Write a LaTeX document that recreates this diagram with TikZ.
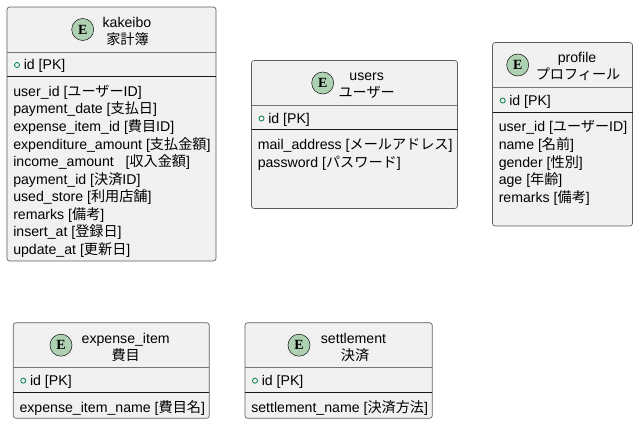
\documentclass[tikz,border=0pt]{standalone}
\usepackage{fontspec}
\setmainfont{Liberation Sans}
\newfontfamily\jpfont{Noto Sans CJK JP}
\newfontfamily\iconfont{Liberation Serif}
\newcommand{\jp}[1]{{\jpfont #1}}
\definecolor{boxfill}{HTML}{F1F1F1}
\definecolor{boxline}{HTML}{181818}
\definecolor{iconfill}{HTML}{ADD1B2}
\definecolor{pkgreen}{HTML}{038048}

\begin{document}
\begin{tikzpicture}
          [x=0.75pt,y=-0.75pt,
           ebox/.style={draw=boxline!70,fill=boxfill,rounded corners=2pt,line width=0.5pt},
           hsep/.style={draw=boxline!60,line width=0.5pt},
           psep/.style={draw=boxline,line width=0.75pt},
           eicon/.style={draw=boxline,shape=circle,fill=iconfill,inner sep=0pt,minimum size=16.5pt,font=\iconfont\bfseries\fontsize{10.5}{10.5}\selectfont},
           pk/.style={draw=pkgreen,shape=circle,inner sep=0pt,minimum size=3.8pt,line width=0.6pt},
           ttl/.style={anchor=base,inner sep=0pt,font=\fontsize{10.6}{12}\selectfont},
           attr/.style={anchor=base west,inner sep=0pt,font=\fontsize{10.6}{12}\selectfont}]

          \useasboundingbox (0,0) rectangle (638,424);

          % kakeibo
          \draw[ebox] (7,7) rectangle (216,261);
          \draw[hsep] (7,52) -- (216,52);
          \draw[psep] (7,77) -- (216,77);
          \node[eicon] (kakeiboE) at (82.7,29.5) {E};
          \node[ttl] (kakeiboT1) at (127,27.5) {kakeibo};
          \node[ttl] (kakeiboT2) at (127.5,44.5) {\jp{家計簿}};
          \node[pk] (kakeiboPK) at (17,65) {};
          \node[attr] (kakeiboId) at (23.5,70) {id [PK]};
          \node[attr] (kakeiboA1) at (13,96.5) {user\_id [\jp{ユーザー}ID]};
          \node[attr] (kakeiboA2) at (13,114) {payment\_date [\jp{支払日}]};
          \node[attr] (kakeiboA3) at (13,131.5) {expense\_item\_id [\jp{費目}ID]};
          \node[attr] (kakeiboA4) at (13,149) {expenditure\_amount [\jp{支払金額}]};
          \node[attr] (kakeiboA5) at (13,166.5) {income\_amount\ \ \ [\jp{収入金額}]};
          \node[attr] (kakeiboA6) at (13,184) {payment\_id [\jp{決済}ID]};
          \node[attr] (kakeiboA7) at (13,201.5) {used\_store [\jp{利用店舗}]};
          \node[attr] (kakeiboA8) at (13,219) {remarks [\jp{備考}]};
          \node[attr] (kakeiboA9) at (13,236.5) {insert\_at [\jp{登録日}]};
          \node[attr] (kakeiboA10) at (13,254) {update\_at [\jp{更新日}]};

          % users
          \draw[ebox] (251.5,60.5) rectangle (457.5,208.5);
          \draw[hsep] (251.5,105.5) -- (457.5,105.5);
          \draw[psep] (251.5,130) -- (457.5,130);
          \node[eicon] (usersE) at (322.7,83) {E};
          \node[ttl] (usersT1) at (366.7,81) {users};
          \node[ttl] (usersT2) at (366.7,98) {\jp{ユーザー}};
          \node[pk] (usersPK) at (261.5,118.5) {};
          \node[attr] (usersId) at (268,123.5) {id [PK]};
          \node[attr] (usersA1) at (257.5,150) {mail\_address [\jp{メールアドレス}]};
          \node[attr] (usersA2) at (257.5,167.5) {password [\jp{パスワード}]};

          % profile
          \draw[ebox] (492.5,42.5) rectangle (632.5,226);
          \draw[hsep] (492.5,87.5) -- (632.5,87.5);
          \draw[psep] (492.5,112.5) -- (632.5,112.5);
          \node[eicon] (profileE) at (517.7,65) {E};
          \node[ttl] (profileT1) at (577,63) {profile};
          \node[ttl] (profileT2) at (578,80) {\jp{プロフィール}};
          \node[pk] (profilePK) at (502.7,100.5) {};
          \node[attr] (profileId) at (509,105.5) {id [PK]};
          \node[attr] (profileA1) at (498.5,132) {user\_id [\jp{ユーザー}ID]};
          \node[attr] (profileA2) at (498.5,149.5) {name [\jp{名前}]};
          \node[attr] (profileA3) at (498.5,167) {gender [\jp{性別}]};
          \node[attr] (profileA4) at (498.5,184.5) {age [\jp{年齢}]};
          \node[attr] (profileA5) at (498.5,202) {remarks [\jp{備考}]};

          % expense_item
          \draw[ebox] (13.3,322.7) rectangle (209.3,418.3);
          \draw[hsep] (13.3,367.7) -- (209.3,367.7);
          \draw[psep] (13.3,392.7) -- (209.3,392.7);
          \node[eicon] (expenseE) at (61,345.2) {E};
          \node[ttl] (expenseT1) at (125.7,343) {expense\_item};
          \node[ttl] (expenseT2) at (125.7,360) {\jp{費目}};
          \node[pk] (expensePK) at (23.3,380.7) {};
          \node[attr] (expenseId) at (29.8,385.7) {id [PK]};
          \node[attr] (expenseA1) at (19.3,412) {expense\_item\_name [\jp{費目名}]};

          % settlement
          \draw[ebox] (245,322.7) rectangle (432.3,418.3);
          \draw[hsep] (245,367.7) -- (432.3,367.7);
          \draw[psep] (245,392.7) -- (432.3,392.7);
          \node[eicon] (settlementE) at (299,345.2) {E};
          \node[ttl] (settlementT1) at (353.5,343) {settlement};
          \node[ttl] (settlementT2) at (355,360) {\jp{決済}};
          \node[pk] (settlementPK) at (255,380.7) {};
          \node[attr] (settlementId) at (261.5,385.7) {id [PK]};
          \node[attr] (settlementA1) at (251,412) {settlement\_name [\jp{決済方法}]};
        \end{tikzpicture}
\end{document}
